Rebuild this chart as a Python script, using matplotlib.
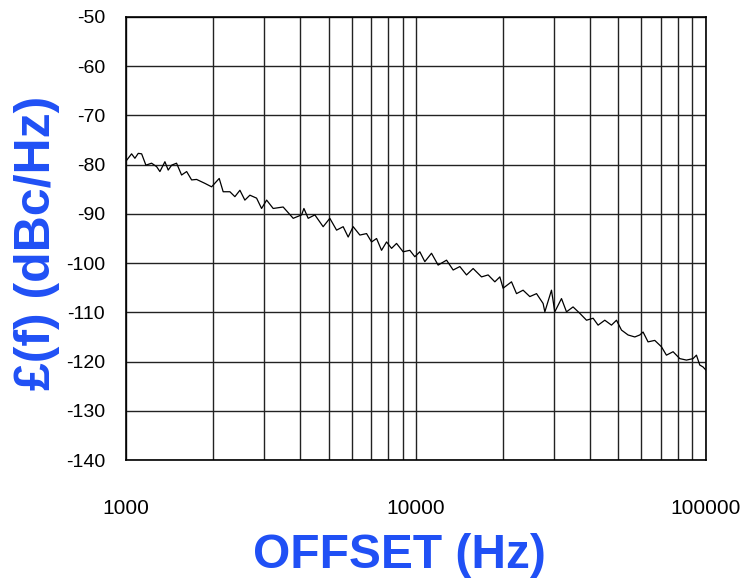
import matplotlib
matplotlib.use('Agg')
import matplotlib.pyplot as plt
from matplotlib.ticker import FixedLocator, NullFormatter

# Phase noise trace (offset in Hz, level in dBc/Hz)
offset_hz = [1006, 1046, 1074, 1103, 1133, 1172, 1226, 1276, 1310, 1363,
             1399, 1438, 1495, 1556, 1620, 1685, 1753, 1873, 1975, 2098,
             2165, 2284, 2376, 2473, 2572, 2677, 2823, 2937, 3057, 3221,
             3486, 3776, 4036, 4111, 4253, 4484, 4790, 5051, 5329, 5615,
             5843, 6079, 6412, 6761, 7036, 7321, 7616, 7925, 8247, 8580,
             9041, 9535, 9922, 10323, 10740, 11326, 11937, 12763, 13451, 14185,
             14958, 15764, 16851, 17758, 18730, 19490, 20000, 21380, 22250, 23440,
             24730, 26080, 27480, 27860, 29370, 30150, 31800, 33090, 34860, 36780,
             38790, 40880, 42530, 44850, 47300, 49220, 51210, 53970, 56920, 59220,
             60790, 63240, 66700, 70350, 73180, 77150, 81360, 85800, 90420, 92880,
             95350, 97880, 100000]
noise_dbc = [-79.1, -77.8, -78.7, -77.7, -77.8, -80.1, -79.7, -80.4, -81.4, -79.4,
             -81.1, -80.1, -79.7, -82.1, -81.4, -83.1, -83.0, -83.8, -84.5, -82.8,
             -85.5, -85.5, -86.5, -85.2, -87.2, -86.2, -86.8, -88.9, -87.2, -88.9,
             -88.6, -90.9, -90.2, -88.9, -90.9, -90.2, -92.6, -90.9, -93.3, -92.6,
             -94.7, -92.6, -94.3, -94.0, -95.7, -95.0, -97.4, -95.7, -97.0, -96.0,
             -97.7, -97.4, -98.7, -97.7, -99.7, -98.0, -100.4, -99.4, -101.4, -100.7,
             -102.4, -101.1, -102.8, -102.4, -103.8, -102.8, -105.1, -103.8, -106.2, -105.5,
             -106.8, -106.2, -108.2, -109.9, -105.5, -109.9, -107.2, -109.9, -108.9, -110.2,
             -111.6, -111.2, -112.6, -111.6, -112.6, -111.6, -113.6, -114.6, -115.0, -114.6,
             -114.0, -116.0, -115.7, -117.0, -118.7, -118.0, -119.4, -119.7, -119.4, -118.7,
             -120.7, -121.1, -121.7]

x_ticks = [1000, 10000, 100000]
x_minor = [2000, 3000, 4000, 5000, 6000, 7000, 8000, 9000,
           20000, 30000, 40000, 50000, 60000, 70000, 80000, 90000]
y_ticks = [-140, -130, -120, -110, -100, -90, -80, -70, -60, -50]

label_blue = '#2050F5'
sans = ['Liberation Sans', 'DejaVu Sans']

fig = plt.figure(figsize=(7.54, 5.82), dpi=100)
ax = fig.add_axes([0.167, 0.2096, 0.769, 0.7612])

ax.plot(offset_hz, noise_dbc, color='black', linewidth=0.9)

ax.set_xscale('log')
ax.set_xlim(1000, 100000)
ax.set_ylim(-140, -50)
ax.xaxis.set_major_locator(FixedLocator(x_ticks))
ax.xaxis.set_minor_locator(FixedLocator(x_minor))
ax.xaxis.set_minor_formatter(NullFormatter())
ax.set_xticklabels([str(v) for v in x_ticks], family=sans, fontsize=15)
ax.set_yticks(y_ticks)
ax.set_yticklabels([str(v) for v in y_ticks], family=sans, fontsize=14)

ax.grid(True, which='major', color='#222222', linewidth=1.0)
ax.grid(True, which='minor', axis='x', color='#222222', linewidth=1.0)
ax.set_axisbelow(True)
ax.tick_params(which='both', length=0)
ax.tick_params(axis='x', pad=28)
ax.tick_params(axis='y', pad=15)

for spine in ax.spines.values():
    spine.set_linewidth(1.2)
    spine.set_color('black')

ax.set_xlabel('OFFSET (Hz)', fontsize=34.5, fontweight='bold', color=label_blue,
              family=sans, va='center')
ax.xaxis.set_label_coords(0.472, -0.215)
ax.set_ylabel('£(f) (dBc/Hz)', fontsize=36, fontweight='bold', color=label_blue,
              family=sans, va='center')
ax.yaxis.set_label_coords(-0.153, 0.49)

fig.savefig('out.png', dpi=100)
